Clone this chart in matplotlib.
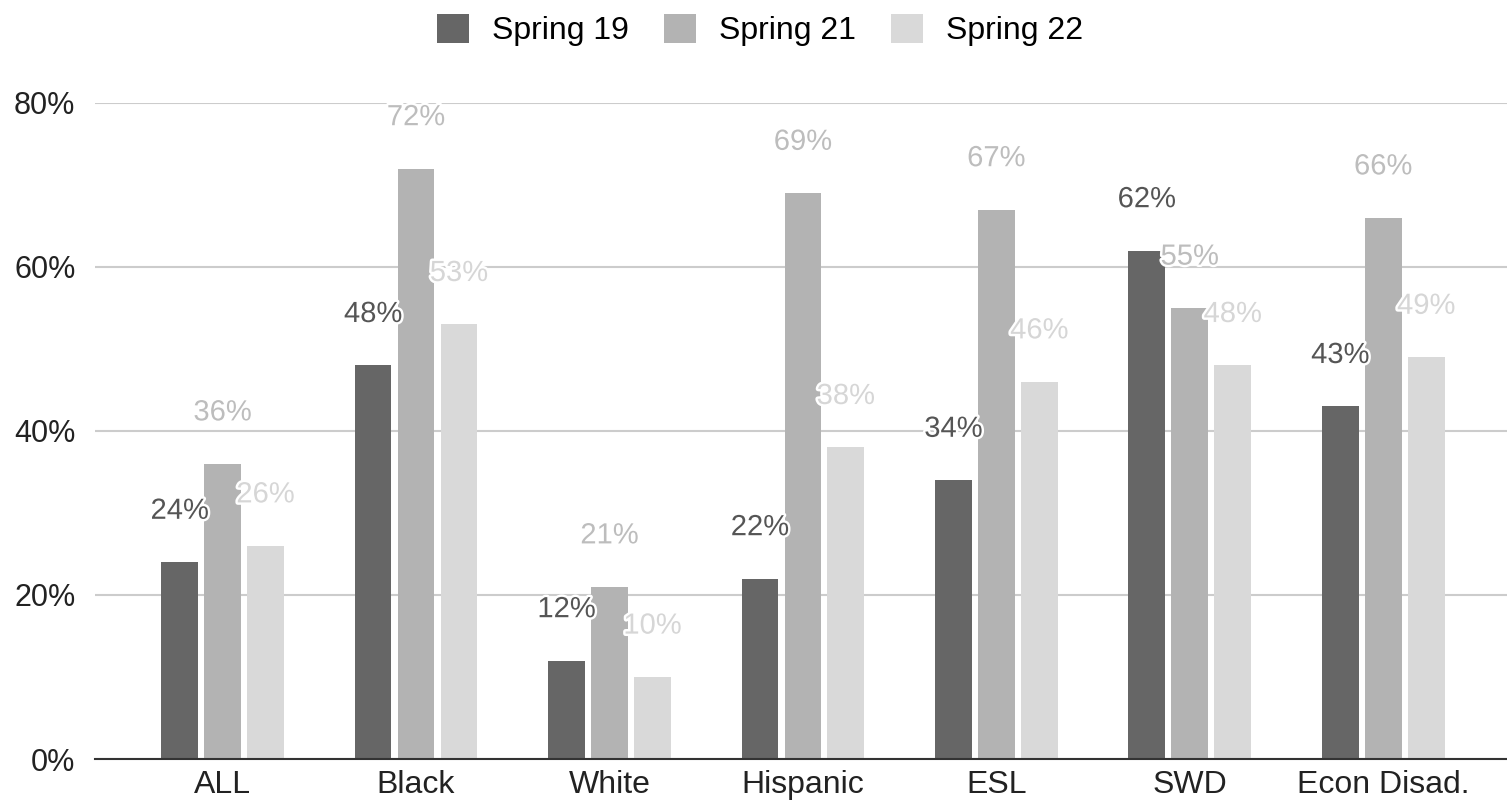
#Grafico de barras agrupadas

import matplotlib.pyplot as plt
import matplotlib.patheffects as pe
import numpy as np

plt.rcParams['font.family'] = ['Liberation Sans', 'DejaVu Sans']

categorias = ['ALL', 'Black', 'White', 'Hispanic', 'ESL', 'SWD', 'Econ Disad.']
spring19 = [24, 48, 12, 22, 34, 62, 43]
spring21 = [36, 72, 21, 69, 67, 55, 66]
spring22 = [26, 53, 10, 38, 46, 48, 49]
series = ['Spring 19', 'Spring 21', 'Spring 22']
colores = ['#666666', '#b3b3b3', '#d9d9d9']
colores_texto = ['#555555', '#bdbdbd', '#d6d6d6']

fig = plt.figure(figsize=(15.07, 8.09), dpi=100)
ax = fig.add_axes([0.063, 0.0618, 0.937, 0.8109])

x = np.arange(len(categorias))
paso = 0.222
ancho = 0.19
for i, (nombre, valores) in enumerate(zip(series, [spring19, spring21, spring22])):
    pos = x + (i - 1) * paso
    ax.bar(pos, valores, ancho, color=colores[i], label=nombre, zorder=2)
    for px, v in zip(pos, valores):
        ax.annotate(f'{v}%', (px, v), xytext=(0, 37), textcoords='offset points',
                    ha='center', va='center', fontsize=21, color=colores_texto[i],
                    zorder=5, annotation_clip=False,
                    path_effects=[pe.withStroke(linewidth=3.5, foreground='white')])

ax.set_xlim(-0.66, 6.64)
ax.set_ylim(0, 80)
ax.set_yticks([0, 20, 40, 60, 80])
ax.set_yticklabels(['0%', '20%', '40%', '60%', '80%'], fontsize=22, color='#222222')
ax.set_xticks(x)
ax.set_xticklabels(categorias, fontsize=23, color='#222222')
ax.tick_params(axis='both', length=0)
ax.tick_params(axis='y', pad=14)
ax.tick_params(axis='x', pad=8)
ax.grid(axis='y', color='#cccccc', linewidth=1.5, zorder=0)
ax.set_axisbelow(True)
for s in ['top', 'right', 'left']:
    ax.spines[s].set_visible(False)
ax.spines['bottom'].set_color('#333333')
ax.spines['bottom'].set_linewidth(1.5)
ax.spines['bottom'].set_zorder(3)

fig.legend(loc='center', bbox_to_anchor=(0.5044, 0.9625), ncol=3, frameon=False,
           fontsize=23, handlelength=1.0, handleheight=1.0, columnspacing=1.1,
           handletextpad=0.72, borderpad=0)

plt.savefig('out.png')
plt.close()
